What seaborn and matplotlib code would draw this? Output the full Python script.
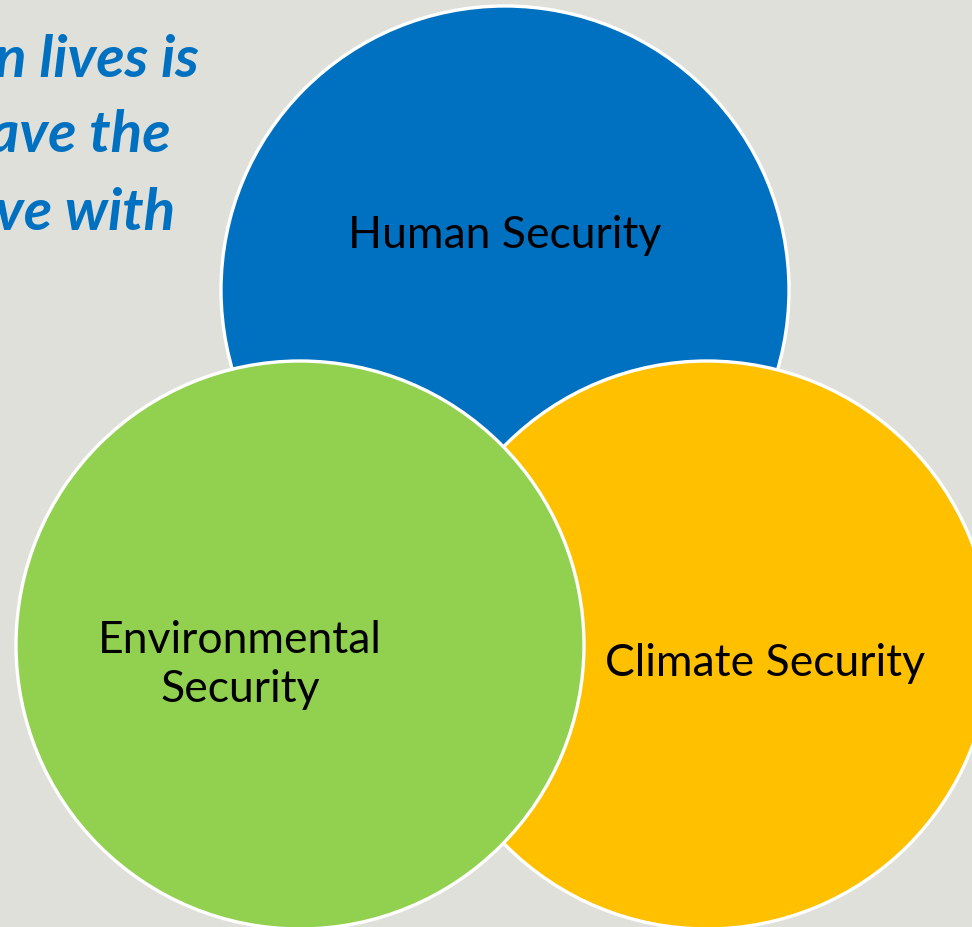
import matplotlib
matplotlib.use("Agg")
import matplotlib.pyplot as plt
from matplotlib.patches import Circle
import seaborn as sns

# -----------------------------
# Data
# -----------------------------
labels = ["Human Security", "Climate Security", "Environmental\nSecurity"]
center_x = [505, 707, 300]
center_y = [291, 646, 646]
radius = [284, 284, 284]
colors = ["#0070C0", "#FFC000", "#92D050"]
label_x = [505, 765, 240]
label_y = [236, 664, 665]

quote_lines = ["n lives is", "ave the", "ve with"]
quote_right = [199, 171, 175]
quote_base = [77, 152, 230]

# -----------------------------
# Figure
# -----------------------------
sns.set_style("white")
plt.rcParams["font.family"] = ["Lato", "DejaVu Sans"]

bg = "#E0E0DB"
fig = plt.figure(figsize=(9.72, 9.28), dpi=100, facecolor=bg)
ax = fig.add_axes([0, 0, 1, 1])
ax.set_facecolor(bg)
ax.set_xlim(0, 972)
ax.set_ylim(928, 0)
ax.set_aspect("equal")
ax.axis("off")

# quote text, cut off by the left edge
for txt, xr, yb in zip(quote_lines, quote_right, quote_base):
    ax.text(xr, yb, txt, ha="right", va="baseline", fontsize=42,
            fontweight="bold", fontstyle="italic", color="#0070C0")

# circles: blue, then orange, then green on top
for cx, cy, r, c in zip(center_x, center_y, radius, colors):
    ax.add_patch(Circle((cx, cy), r, facecolor=c, edgecolor="white", linewidth=2.4))

for lab, lx, ly in zip(labels, label_x, label_y):
    ax.text(lx, ly, lab, ha="center", va="center", fontsize=32,
            color="black", linespacing=1.25)

fig.savefig("out.png", dpi=100, facecolor=bg)
